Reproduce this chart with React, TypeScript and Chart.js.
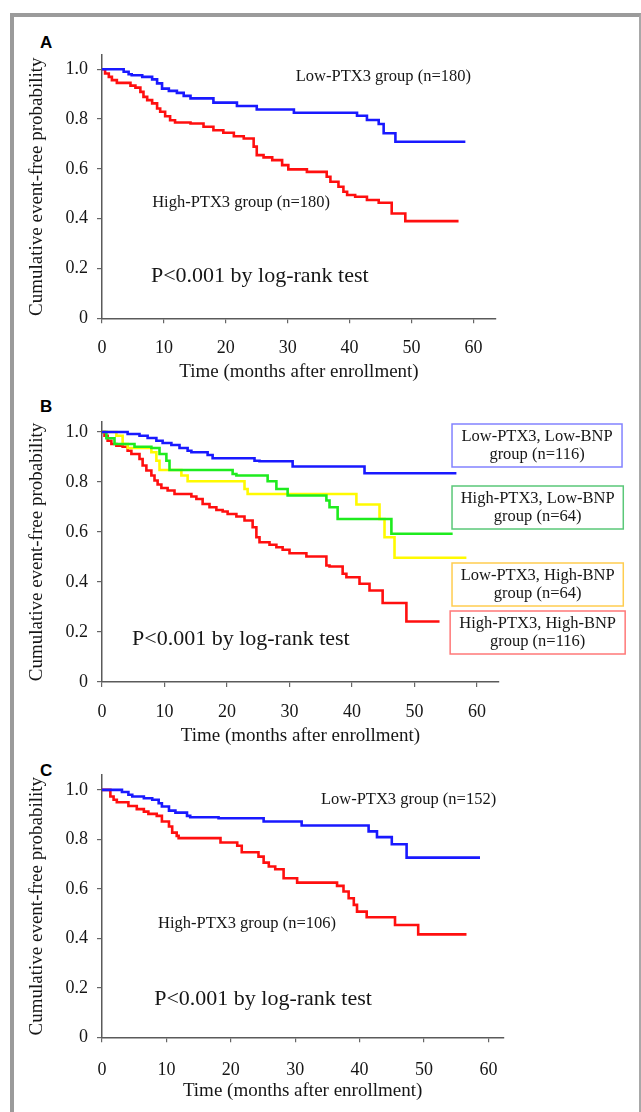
import React, { useEffect, useRef } from 'react';
import { Chart, registerables } from 'chart.js';

Chart.register(...registerables);

const SERIF = '"Liberation Serif", "Times New Roman", serif';
const SANS = '"Liberation Sans", Arial, sans-serif';

// ---- tick labels ----
const X_TICKS = [0, 10, 20, 30, 40, 50, 60];
const Y_TICKS = [0, 0.2, 0.4, 0.6, 0.8, 1.0];
const Y_TICK_LABELS = ['0', '0.2', '0.4', '0.6', '0.8', '1.0'];
const X_TITLE = 'Time (months after enrollment)';
const Y_TITLE = 'Cumulative event-free probability';
const P_TEXT = 'P<0.001 by log-rank test';

// ---- Panel A ----
const aLowT = [0, 3.5, 4.3, 4.8, 6.5, 8.1, 8.9, 9.7, 10.8, 12.1, 13.2, 14.3, 18.0, 21.8, 25.0, 31.0, 41.2, 42.8, 44.7, 45.5, 47.4, 58.7];
const aLowS = [1.0, 0.99, 0.98, 0.976, 0.969, 0.959, 0.943, 0.922, 0.913, 0.905, 0.893, 0.883, 0.866, 0.852, 0.838, 0.825, 0.813, 0.796, 0.78, 0.743, 0.709, 0.709];
const aHighT = [0, 0.5, 1.1, 1.6, 2.4, 4.6, 5.4, 6.2, 6.7, 7.3, 8.1, 8.9, 9.4, 10.2, 11.0, 11.8, 14.3, 16.4, 18.0, 19.6, 21.3, 22.9, 24.5, 25.0, 26.1, 27.5, 29.1, 30.1, 33.1, 36.3, 36.9, 38.2, 39.0, 39.6, 40.9, 42.8, 44.7, 46.8, 49.0, 57.6];
const aHighS = [1.0, 0.983, 0.969, 0.956, 0.945, 0.934, 0.926, 0.909, 0.889, 0.876, 0.863, 0.842, 0.829, 0.811, 0.795, 0.786, 0.782, 0.769, 0.755, 0.745, 0.731, 0.722, 0.689, 0.655, 0.646, 0.635, 0.615, 0.598, 0.588, 0.568, 0.548, 0.528, 0.508, 0.495, 0.488, 0.475, 0.464, 0.421, 0.39, 0.39];

// ---- Panel B ----
const bLowLowT = [0, 4.1, 6.0, 7.3, 8.7, 9.7, 11.1, 12.4, 13.7, 14.3, 16.9, 17.7, 24.4, 25.2, 30.5, 42.0, 56.7];
const bLowLowS = [1.0, 0.992, 0.985, 0.976, 0.965, 0.956, 0.948, 0.936, 0.925, 0.919, 0.908, 0.895, 0.885, 0.883, 0.862, 0.835, 0.835];
const bHighLowT = [0, 0.7, 2.0, 5.2, 7.9, 9.2, 10.3, 10.8, 20.9, 21.5, 26.5, 27.9, 29.7, 35.9, 36.4, 37.7, 46.3, 56.1];
const bHighLowS = [1.0, 0.975, 0.952, 0.941, 0.936, 0.912, 0.885, 0.848, 0.832, 0.826, 0.803, 0.772, 0.746, 0.726, 0.699, 0.652, 0.593, 0.593];
const bLowHighT = [0, 2.3, 3.3, 4.1, 7.9, 8.7, 9.2, 12.7, 13.7, 22.8, 23.3, 40.7, 44.4, 45.2, 46.8, 58.3];
const bLowHighS = [1.0, 0.985, 0.952, 0.936, 0.919, 0.885, 0.848, 0.826, 0.803, 0.772, 0.752, 0.71, 0.652, 0.579, 0.497, 0.497];
const bHighHighT = [0, 0.4, 0.9, 1.5, 2.3, 3.3, 4.1, 4.7, 6.0, 6.5, 7.1, 7.9, 8.4, 8.9, 9.5, 10.5, 11.6, 14.3, 15.1, 16.1, 17.2, 18.3, 19.3, 20.1, 21.5, 22.8, 24.1, 24.7, 25.2, 26.8, 27.9, 28.9, 30.0, 32.7, 35.9, 36.4, 38.5, 39.1, 41.2, 42.8, 44.9, 48.7, 54.0];
const bHighHighS = [1.0, 0.985, 0.965, 0.952, 0.945, 0.941, 0.925, 0.912, 0.892, 0.866, 0.846, 0.826, 0.806, 0.79, 0.776, 0.766, 0.752, 0.742, 0.732, 0.712, 0.699, 0.688, 0.682, 0.672, 0.662, 0.646, 0.619, 0.579, 0.559, 0.549, 0.539, 0.529, 0.515, 0.502, 0.466, 0.462, 0.433, 0.419, 0.393, 0.366, 0.316, 0.242, 0.242];

// ---- Panel C ----
const cLowT = [0, 3.1, 4.1, 4.7, 6.5, 7.8, 8.8, 9.3, 10.4, 11.4, 13.2, 13.7, 18.1, 25.1, 31.0, 41.4, 42.7, 45.0, 47.3, 58.7];
const cLowS = [1.0, 0.991, 0.98, 0.973, 0.966, 0.96, 0.946, 0.933, 0.916, 0.908, 0.895, 0.889, 0.885, 0.872, 0.856, 0.832, 0.809, 0.78, 0.726, 0.726];
const cHighT = [0, 1.3, 1.8, 2.3, 4.1, 5.4, 6.5, 7.2, 8.5, 9.3, 10.4, 10.9, 11.6, 11.9, 18.4, 21.0, 21.7, 24.3, 25.1, 25.9, 26.9, 28.2, 30.3, 36.5, 37.5, 38.3, 39.1, 39.6, 41.1, 45.5, 49.1, 56.6];
const cHighS = [1.0, 0.973, 0.96, 0.95, 0.935, 0.922, 0.912, 0.903, 0.895, 0.872, 0.852, 0.827, 0.814, 0.805, 0.787, 0.774, 0.748, 0.73, 0.706, 0.69, 0.679, 0.643, 0.625, 0.612, 0.589, 0.562, 0.535, 0.508, 0.485, 0.454, 0.416, 0.416];

const BLUE = 'rgb(25,25,255)';
const RED = 'rgb(255,15,15)';
const GREEN = 'rgb(30,235,30)';
const YELLOW = 'rgb(255,250,0)';

type Series = { label: string; t: number[]; s: number[]; color: string };
type Txt = { text: string; x: number; y: number; size: number };
type Box = { lines: string[]; x1: number; x2: number; y1: number; y2: number; border: string };
type Panel = {
  top: number; height: number; padTop: number; padRight: number;
  xMax: number; yMax: number; xAxisH: number; titlePadBottom: number; tickPad: number;
  series: Series[]; texts: Txt[]; boxes: Box[];
};

const panelA: Panel = {
  top: 25, height: 375, padTop: 30, padRight: 145, xMax: 63.65, yMax: 1.057,
  xAxisH: 81.7, titlePadBottom: 16.8, tickPad: 13.9,
  series: [
    { label: 'Low-PTX3 group (n=180)', t: aLowT, s: aLowS, color: BLUE },
    { label: 'High-PTX3 group (n=180)', t: aHighT, s: aHighS, color: RED },
  ],
  texts: [
    { text: 'Low-PTX3 group (n=180)', x: 31.3, y: 0.969, size: 16.5 },
    { text: 'High-PTX3 group (n=180)', x: 8.1, y: 0.463, size: 16.5 },
    { text: P_TEXT, x: 7.9, y: 0.17, size: 22 },
  ],
  boxes: [],
};

const panelB: Panel = {
  top: 390, height: 375, padTop: 32, padRight: 142.1, xMax: 63.5, yMax: 1.04,
  xAxisH: 83, titlePadBottom: 17.8, tickPad: 14.2,
  series: [
    { label: 'Low-PTX3, Low-BNP group (n=116)', t: bLowLowT, s: bLowLowS, color: BLUE },
    { label: 'High-PTX3, Low-BNP group (n=64)', t: bHighLowT, s: bHighLowS, color: GREEN },
    { label: 'Low-PTX3, High-BNP group (n=64)', t: bLowHighT, s: bLowHighS, color: YELLOW },
    { label: 'High-PTX3, High-BNP group (n=116)', t: bHighHighT, s: bHighHighS, color: RED },
  ],
  texts: [{ text: P_TEXT, x: 4.8, y: 0.172, size: 22 }],
  boxes: [
    { lines: ['Low-PTX3, Low-BNP', 'group (n=116)'], x1: 56.0, x2: 83.2, y1: 1.032, y2: 0.86, border: 'rgb(130,130,255)' },
    { lines: ['High-PTX3, Low-BNP', 'group (n=64)'], x1: 56.0, x2: 83.4, y1: 0.784, y2: 0.612, border: 'rgb(90,200,120)' },
    { lines: ['Low-PTX3, High-BNP', 'group (n=64)'], x1: 56.0, x2: 83.4, y1: 0.476, y2: 0.304, border: 'rgb(255,205,80)' },
    { lines: ['High-PTX3, High-BNP', 'group (n=116)'], x1: 55.7, x2: 83.7, y1: 0.284, y2: 0.112, border: 'rgb(255,120,120)' },
  ],
};

const panelC: Panel = {
  top: 750, height: 362, padTop: 25, padRight: 137.8, xMax: 62.3, yMax: 1.06,
  xAxisH: 74.7, titlePadBottom: 9.8, tickPad: 16.9,
  series: [
    { label: 'Low-PTX3 group (n=152)', t: cLowT, s: cLowS, color: BLUE },
    { label: 'High-PTX3 group (n=106)', t: cHighT, s: cHighS, color: RED },
  ],
  texts: [
    { text: 'Low-PTX3 group (n=152)', x: 34.0, y: 0.96, size: 16.5 },
    { text: 'High-PTX3 group (n=106)', x: 8.7, y: 0.458, size: 16.5 },
    { text: P_TEXT, x: 8.1, y: 0.155, size: 22 },
  ],
  boxes: [],
};

function KMChart({ p }: { p: Panel }) {
  const ref = useRef<HTMLCanvasElement>(null);
  useEffect(() => {
    const annot = {
      id: 'annot',
      afterDatasetsDraw(chart: any) {
        const { ctx } = chart;
        const xs = chart.scales.x;
        const ys = chart.scales.y;
        ctx.save();
        ctx.fillStyle = '#161616';
        ctx.textBaseline = 'middle';
        for (const t of p.texts) {
          ctx.font = `${t.size}px ${SERIF}`;
          ctx.textAlign = 'left';
          ctx.fillText(t.text, xs.getPixelForValue(t.x), ys.getPixelForValue(t.y));
        }
        for (const b of p.boxes) {
          const x1 = xs.getPixelForValue(b.x1);
          const x2 = xs.getPixelForValue(b.x2);
          const y1 = ys.getPixelForValue(b.y1);
          const y2 = ys.getPixelForValue(b.y2);
          ctx.fillStyle = '#ffffff';
          ctx.fillRect(x1, y1, x2 - x1, y2 - y1);
          ctx.strokeStyle = b.border;
          ctx.lineWidth = 1.5;
          ctx.strokeRect(x1, y1, x2 - x1, y2 - y1);
          ctx.fillStyle = '#161616';
          ctx.font = `16.5px ${SERIF}`;
          ctx.textAlign = 'center';
          const cx = (x1 + x2) / 2;
          const cy = (y1 + y2) / 2;
          ctx.fillText(b.lines[0], cx, cy - 9);
          ctx.fillText(b.lines[1], cx, cy + 9.5);
        }
        ctx.restore();
      },
    };

    const chart = new Chart(ref.current!, {
      type: 'line',
      data: {
        datasets: p.series.map((sr) => ({
          label: sr.label,
          data: sr.t.map((t, i) => ({ x: t, y: sr.s[i] })),
          borderColor: sr.color,
          backgroundColor: sr.color,
          borderWidth: 2.6,
          pointRadius: 0,
          stepped: 'before' as const,
          fill: false,
          tension: 0,
        })),
      },
      options: {
        animation: false,
        responsive: false,
        maintainAspectRatio: false,
        events: [],
        layout: { padding: { top: p.padTop, right: p.padRight, left: 0, bottom: 0 } },
        plugins: { legend: { display: false }, tooltip: { enabled: false }, title: { display: false } },
        scales: {
          x: {
            type: 'linear',
            min: 0,
            max: p.xMax,
            afterBuildTicks: (s: any) => { s.ticks = X_TICKS.map((v) => ({ value: v })); },
            afterFit: (s: any) => { s.height = p.xAxisH; },
            grid: { drawOnChartArea: false, drawTicks: true, tickLength: 5, color: '#666', lineWidth: 1.2 },
            border: { display: true, color: '#5a5a5a', width: 1.5 },
            ticks: {
              autoSkip: false, maxRotation: 0, padding: p.tickPad, color: '#161616',
              font: { family: SERIF, size: 18 },
              callback: (v: any) => String(v),
            },
            title: {
              display: true, text: X_TITLE, color: '#161616',
              font: { family: SERIF, size: 19 },
              padding: { top: 0, bottom: p.titlePadBottom },
            },
          },
          y: {
            type: 'linear',
            min: 0,
            max: p.yMax,
            afterBuildTicks: (s: any) => { s.ticks = Y_TICKS.map((v) => ({ value: v })); },
            afterFit: (s: any) => { s.width = 102; },
            grid: { drawOnChartArea: false, drawTicks: true, tickLength: 5, color: '#666', lineWidth: 1.2 },
            border: { display: true, color: '#5a5a5a', width: 1.5 },
            ticks: {
              padding: 9, color: '#161616',
              font: { family: SERIF, size: 18 },
              callback: (v: any) => {
                const i = Y_TICKS.findIndex((t) => Math.abs(t - v) < 1e-6);
                return i >= 0 ? Y_TICK_LABELS[i] : '';
              },
            },
            title: {
              display: true, text: Y_TITLE, color: '#161616',
              font: { family: SERIF, size: 19 },
              padding: { top: 25.8, bottom: 0 },
            },
          },
        },
      },
      plugins: [annot],
    } as any);
    return () => chart.destroy();
  }, [p]);

  return (
    <canvas
      ref={ref}
      width={641}
      height={p.height}
      style={{ position: 'absolute', left: 0, top: p.top, width: 641, height: p.height }}
    />
  );
}

const letterStyle: React.CSSProperties = {
  position: 'absolute', left: 40, fontFamily: SANS, fontWeight: 700, fontSize: 17, lineHeight: '17px', color: '#000',
};

export default function App() {
  return (
    <div style={{ position: 'absolute', left: 0, top: 0, width: 641, height: 1112, overflow: 'hidden', background: '#fff' }}>
      <div
        style={{
          position: 'absolute', left: 10, top: 13, width: 625, height: 1200,
          borderLeft: '4px solid #9b9b9b', borderTop: '4px solid #9b9b9b', borderRight: '2px solid #a8a8a8',
        }}
      />
      <div style={{ ...letterStyle, top: 34 }}>A</div>
      <div style={{ ...letterStyle, top: 398 }}>B</div>
      <div style={{ ...letterStyle, top: 762 }}>C</div>
      <KMChart p={panelA} />
      <KMChart p={panelB} />
      <KMChart p={panelC} />
    </div>
  );
}
